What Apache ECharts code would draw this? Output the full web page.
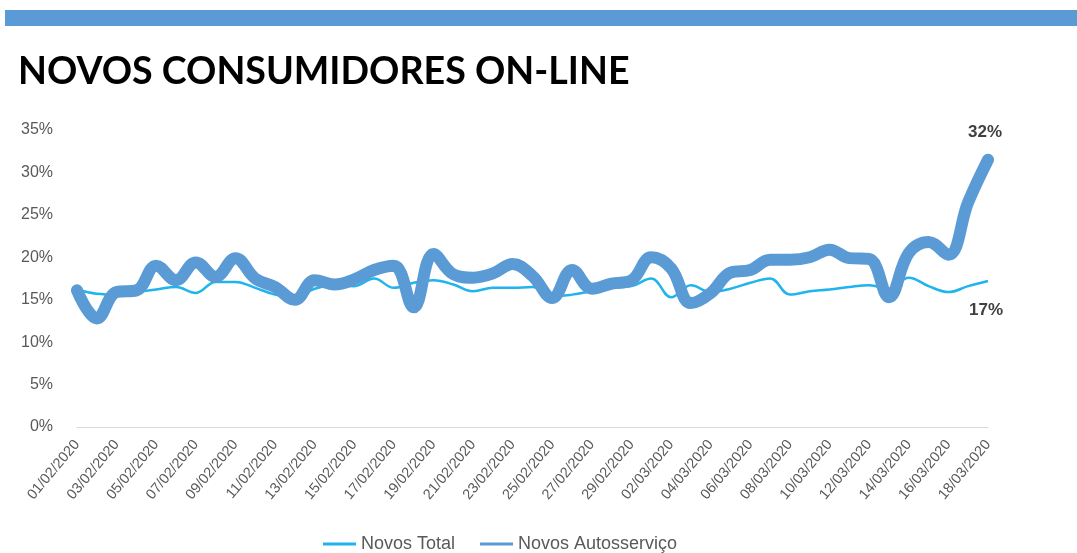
<!DOCTYPE html>
<html>
<head>
<meta charset="utf-8">
<script src="https://cdn.jsdelivr.net/npm/echarts@6/dist/echarts.min.js"></script>
<style>
  html, body { margin: 0; padding: 0; background: #fff; }
  #main { width: 1077px; height: 553px; }
</style>
</head>
<body>
<div id="main"></div>
<script>
// datas diarias 01/02/2020 .. 18/03/2020
var dias = [
  '01/02/2020','02/02/2020','03/02/2020','04/02/2020','05/02/2020','06/02/2020','07/02/2020','08/02/2020',
  '09/02/2020','10/02/2020','11/02/2020','12/02/2020','13/02/2020','14/02/2020','15/02/2020','16/02/2020',
  '17/02/2020','18/02/2020','19/02/2020','20/02/2020','21/02/2020','22/02/2020','23/02/2020','24/02/2020',
  '25/02/2020','26/02/2020','27/02/2020','28/02/2020','29/02/2020','01/03/2020','02/03/2020','03/03/2020',
  '04/03/2020','05/03/2020','06/03/2020','07/03/2020','08/03/2020','09/03/2020','10/03/2020','11/03/2020',
  '12/03/2020','13/03/2020','14/03/2020','15/03/2020','16/03/2020','17/03/2020','18/03/2020'
];
// % novos consumidores
var novosTotal = [
  16.2, 15.7, 15.6, 15.9, 16.2, 16.5, 15.8, 17.1, 17.1, 16.4, 15.6, 15.3,
  16.3, 16.7, 16.6, 17.5, 16.4, 17.0, 17.3, 16.8, 16.0, 16.4, 16.4, 16.5,
  15.4, 15.6, 16.0, 16.4, 16.6, 17.5, 15.3, 16.7, 15.9, 16.3, 17.0, 17.5,
  15.6, 16.0, 16.2, 16.5, 16.7, 16.3, 17.6, 16.6, 15.9, 16.6, 17.2
];
var novosAuto = [
  16.1, 12.8, 15.9, 16.1, 19.0, 17.3, 19.4, 17.7, 19.9, 17.5, 16.5, 15.0,
  17.3, 16.8, 17.4, 18.5, 19.0, 14.1, 20.4, 18.0, 17.6, 18.1, 19.2, 17.8,
  15.2, 18.5, 16.3, 16.9, 17.3, 20.0, 18.7, 14.6, 15.8, 18.2, 18.5, 19.7,
  19.7, 20.0, 20.9, 19.9, 19.8, 15.3, 20.5, 21.8, 20.3, 26.5, 31.5
];
var nomes = ['Novos Total', 'Novos Autosserviço'];

var myChart = echarts.init(document.getElementById('main'));

var option = {
  animation: false,
  backgroundColor: '#fff',
  title: {
    text: 'NOVOS CONSUMIDORES ON-LINE',
    left: 13,
    top: 48,
    textStyle: {
      fontFamily: 'Lato',
      fontSize: 37.6,
      fontWeight: 'bold',
      color: '#000'
    }
  },
  graphic: [{
    type: 'rect',
    shape: { x: 5, y: 10, width: 1072, height: 16 },
    style: { fill: '#5b9bd5' }
  }],
  legend: {
    data: nomes,
    bottom: -5,
    left: 318,
    icon: 'rect',
    itemWidth: 33,
    itemHeight: 3,
    itemGap: 25,
    textStyle: {
      fontFamily: 'Liberation Sans',
      fontSize: 18,
      color: '#595959'
    }
  },
  grid: {
    left: 77,
    right: 89,
    top: 130,
    bottom: 126
  },
  xAxis: {
    type: 'category',
    data: dias,
    boundaryGap: false,
    axisLine: { lineStyle: { color: '#d9d9d9' } },
    axisTick: { show: false },
    axisLabel: {
      interval: 1,
      rotate: 50,
      margin: 15,
      fontFamily: 'Liberation Sans',
      fontSize: 14.5,
      color: '#595959'
    }
  },
  yAxis: {
    type: 'value',
    min: 0,
    max: 35,
    interval: 5,
    splitLine: { show: false },
    axisLine: { show: false },
    axisTick: { show: false },
    axisLabel: {
      formatter: '{value}%',
      margin: 24,
      fontFamily: 'Liberation Sans',
      fontSize: 16,
      color: '#595959'
    }
  },
  series: [{
    name: nomes[0],
    type: 'line',
    data: novosTotal,
    smooth: 0.4,
    showSymbol: false,
    color: '#1fb4ec',
    lineStyle: { width: 2.5, color: '#1fb4ec' },
    endLabel: {
      show: true,
      formatter: function (p) { return Math.round(p.value) + '%'; },
      offset: [-27, 29],
      fontFamily: 'Liberation Sans',
      fontSize: 17,
      fontWeight: 'bold',
      color: '#404040'
    },
    z: 2
  }, {
    name: nomes[1],
    type: 'line',
    data: novosAuto,
    smooth: 0.4,
    showSymbol: false,
    color: '#5b9bd5',
    lineStyle: { width: 12, color: '#5b9bd5', cap: 'round', join: 'round' },
    endLabel: {
      show: true,
      formatter: function (p) { return Math.round(p.value) + '%'; },
      offset: [-28, -27],
      fontFamily: 'Liberation Sans',
      fontSize: 17,
      fontWeight: 'bold',
      color: '#404040'
    },
    z: 3
  }]
};
myChart.setOption(option);
</script>
</body>
</html>
